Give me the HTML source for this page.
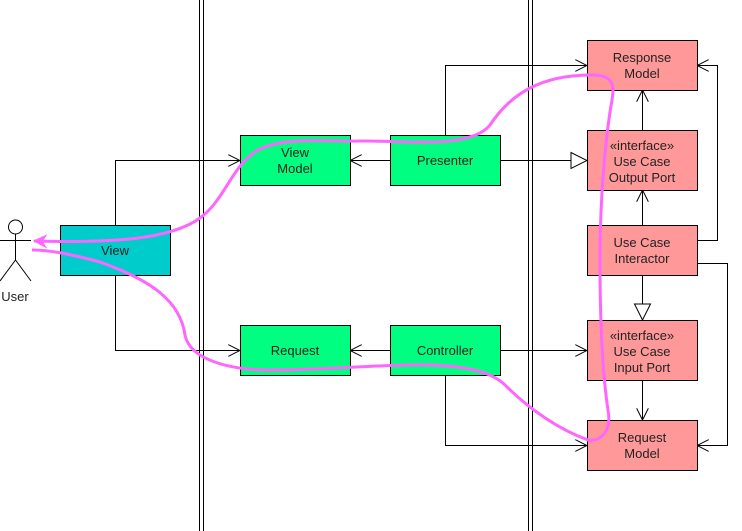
<!DOCTYPE html>
<html><head><style>body{margin:0;background:#fff}svg{display:block}text{font-family:"Liberation Sans",Arial,sans-serif;font-size:13px;fill:#222;text-anchor:middle}</style></head><body>
<svg width="742" height="531" viewBox="0 0 742 531" xmlns="http://www.w3.org/2000/svg">
<defs>
<marker id="o" viewBox="0 0 12 12" refX="12" refY="6" markerWidth="12" markerHeight="12" orient="auto" markerUnits="userSpaceOnUse"><path d="M0,0 L12,6 L0,12" fill="none" stroke="#000" stroke-width="1"/></marker>
<marker id="t" viewBox="0 0 18 18" refX="17" refY="9" markerWidth="18" markerHeight="18" orient="auto" markerUnits="userSpaceOnUse"><path d="M1,1 L17,9 L1,17 Z" fill="#fff" stroke="#000" stroke-width="1"/></marker>
<marker id="p" viewBox="0 0 14 14" refX="1" refY="7" markerWidth="14" markerHeight="14" orient="auto" markerUnits="userSpaceOnUse"><path d="M13,1 L1,7 L13,13 L9,7 Z" fill="#f6f" stroke="#f6f"/></marker>
</defs>
<g stroke="#000" stroke-width="1">
<line x1="199.5" y1="0" x2="199.5" y2="531"/><line x1="203.5" y1="0" x2="203.5" y2="531"/>
<line x1="528.5" y1="0" x2="528.5" y2="531"/><line x1="532.5" y1="0" x2="532.5" y2="531"/>
</g>
<g fill="none" stroke="#000" stroke-width="1">
<path d="M115.5,225 V160.5 H240" marker-end="url(#o)"/>
<path d="M115.5,275 V350.5 H240" marker-end="url(#o)"/>
<path d="M390,160.5 H350" marker-end="url(#o)"/>
<path d="M390,350.5 H350" marker-end="url(#o)"/>
<path d="M445.5,135 V65.5 H587" marker-end="url(#o)"/>
<path d="M500,160.5 H587" marker-end="url(#t)"/>
<path d="M500,350.5 H587" marker-end="url(#o)"/>
<path d="M445.5,375 V445.5 H587" marker-end="url(#o)"/>
<path d="M642.5,130 V90" marker-end="url(#o)"/>
<path d="M642.5,225 V190" marker-end="url(#o)"/>
<path d="M642.5,275 V320" marker-end="url(#t)"/>
<path d="M642.5,380 V420" marker-end="url(#o)"/>
<path d="M697,240.5 H717.5 V65.5 H697" marker-end="url(#o)"/>
<path d="M697,263.5 H727.5 V445.5 H697" marker-end="url(#o)"/>
</g>
<g stroke="#000" stroke-width="1">
<rect x="60.5" y="225.5" width="110" height="50" fill="#00CCCC"/>
<rect x="240.5" y="135.5" width="110" height="50" fill="#00FF80"/>
<rect x="240.5" y="325.5" width="110" height="50" fill="#00FF80"/>
<rect x="390.5" y="135.5" width="110" height="50" fill="#00FF80"/>
<rect x="390.5" y="325.5" width="110" height="50" fill="#00FF80"/>
<rect x="587.5" y="40.5" width="110" height="50" fill="#FF9999"/>
<rect x="587.5" y="130.5" width="110" height="60" fill="#FF9999"/>
<rect x="587.5" y="225.5" width="110" height="50" fill="#FF9999"/>
<rect x="587.5" y="320.5" width="110" height="60" fill="#FF9999"/>
<rect x="587.5" y="420.5" width="110" height="50" fill="#FF9999"/>
</g>
<g fill="none" stroke="#000" stroke-width="1">
<circle cx="15.5" cy="227" r="7" fill="#fff"/>
<path d="M15.5,234 V260 M0,240.5 H31 M15.5,260 L0,281 M15.5,260 L31,281"/>
</g>
<text x="15" y="301" fill="#444">User</text>
<text x="115" y="255">View</text>
<text x="295" y="157">View</text><text x="295" y="173">Model</text>
<text x="295" y="355">Request</text>
<text x="445" y="165">Presenter</text>
<text x="445" y="355">Controller</text>
<text x="642" y="62">Response</text><text x="642" y="78">Model</text>
<text x="642" y="150">«interface»</text><text x="642" y="166">Use Case</text><text x="642" y="182">Output Port</text>
<text x="642" y="247">Use Case</text><text x="642" y="263">Interactor</text>
<text x="642" y="340">«interface»</text><text x="642" y="356">Use Case</text><text x="642" y="372">Input Port</text>
<text x="642" y="442">Request</text><text x="642" y="458">Model</text>
<path d="M34,241 C110,243 170,240 200,218 C225,200 232,165 258,150 C285,136 330,142 360,141 C400,140 470,150 490,125 C510,95 540,74 595,75 C615,76 614,88 612,100 C605,140 600,200 600,260 C600,320 602,370 608,410 C612,432 600,442 588,440 C560,430 530,410 505,385 C490,370 460,366 430,365 C380,364 330,370 270,370 C230,370 190,360 185,335 C180,300 150,280 100,262 C70,254 50,250 32,250" fill="none" stroke="#FF66FF" stroke-width="3" marker-start="url(#p)"/>
</svg>
</body></html>
